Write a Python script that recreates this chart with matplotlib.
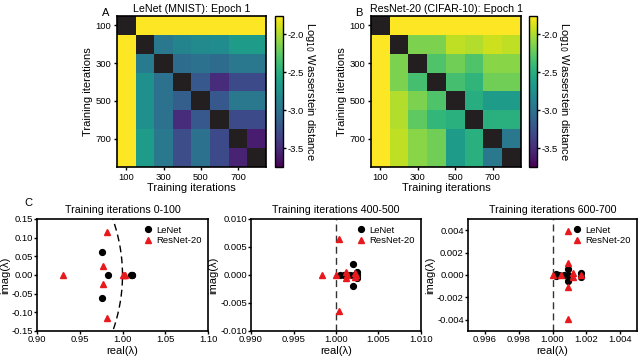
import numpy as np
import matplotlib.pyplot as plt
import matplotlib as mpl

plt.rcParams['font.family'] = ['Liberation Sans', 'DejaVu Sans']
plt.rcParams['axes.linewidth'] = 1.2

# heatmap data: log10 Wasserstein distance, nan on the diagonal
iters = [100, 200, 300, 400, 500, 600, 700, 800]
tick_iters = [100, 300, 500, 700]
nan = np.nan
lenet = [
    [nan, -1.6, -1.6, -1.6, -1.6, -1.6, -1.6, -1.6],
    [-1.6, nan, -2.95, -2.85, -2.80, -2.78, -2.65, -2.65],
    [-1.6, -2.92, nan, -3.05, -3.00, -3.05, -2.95, -2.95],
    [-1.6, -2.75, -3.00, nan, -3.20, -3.50, -3.30, -3.30],
    [-1.6, -2.75, -3.00, -3.15, nan, -3.20, -2.95, -2.95],
    [-1.6, -2.75, -3.00, -3.50, -3.20, nan, -3.30, -3.30],
    [-1.6, -2.65, -2.95, -3.28, -3.00, -3.30, nan, -3.60],
    [-1.6, -2.65, -2.95, -3.28, -3.00, -3.30, -3.55, nan],
]
resnet = [
    [nan, -1.6, -1.6, -1.6, -1.6, -1.6, -1.6, -1.6],
    [-1.6, nan, -2.15, -2.15, -1.95, -1.99, -1.91, -1.95],
    [-1.6, -2.15, nan, -2.31, -2.19, -2.31, -2.11, -2.11],
    [-1.6, -2.15, -2.35, nan, -2.35, -2.45, -2.19, -2.19],
    [-1.6, -1.99, -2.15, -2.31, nan, -2.51, -2.65, -2.65],
    [-1.6, -1.99, -2.25, -2.43, -2.49, nan, -2.49, -2.49],
    [-1.6, -1.95, -2.11, -2.19, -2.65, -2.49, nan, -2.95],
    [-1.6, -1.95, -2.11, -2.19, -2.65, -2.49, -2.95, nan],
]

# eigenvalue data
p1_lenet_re = [0.976, 0.976, 0.983, 1.011, 1.0105, 1.0115]
p1_lenet_im = [0.062, -0.062, 0.0, 0.0, 0.001, -0.001]
p1_res_re = [0.930, 0.982, 0.982, 0.977, 0.977, 1.000, 1.002, 1.003]
p1_res_im = [0.0, 0.115, -0.115, 0.024, -0.024, 0.0, 0.0, 0.0]

p2_lenet_re = [1.002, 1.002, 1.0025, 1.0025, 1.0005, 1.0009, 1.0013, 1.0017, 1.0021, 1.0025]
p2_lenet_im = [0.002, -0.002, 0.0005, -0.0005, 0.0, 0.0, 0.0, 0.0, 0.0, 0.0]
p2_res_re = [0.9983, 1.0000, 1.0003, 1.0003, 1.0012, 1.0012, 1.0013, 1.0022, 1.0022, 1.0023]
p2_res_im = [0.0, 0.0, 0.0065, -0.0065, 0.0005, -0.0005, 0.0, 0.0004, -0.0004, 0.0]

p3_lenet_re = [1.0002, 1.0002, 1.0004, 1.0007, 1.0009, 1.0009, 1.0009, 1.0017, 1.0017]
p3_lenet_im = [0.0001, -0.0001, 0.0, 0.0, 0.0005, -0.0005, 0.0, 0.0002, -0.0002]
p3_res_re = [1.0000, 1.0005, 1.0009, 1.0009, 1.0009, 1.0009, 1.0012, 1.0012, 1.0017]
p3_res_im = [0.0, 0.0, 0.0039, -0.0039, 0.0011, -0.0011, 0.0002, -0.0002, 0.0]

W, H = 640, 360
fig = plt.figure(figsize=(6.4, 3.6), dpi=100)

FS = 8.0   # axis labels
TT = 7.7   # titles
TS = 6.8   # tick labels


def box(x, y0, w, y1):
    return [x / W, 1 - y1 / H, w / W, (y1 - y0) / H]


cmap = mpl.colormaps['viridis'].copy()
cmap.set_bad('#231f20')


def heat(rect, crect, data, title, letter, lx):
    ax = fig.add_axes(rect)
    m = np.ma.masked_invalid(np.array(data))
    im = ax.imshow(m, cmap=cmap, vmin=-3.75, vmax=-1.76, aspect='auto',
                   extent=(50, 850, 850, 50))
    ax.set_xticks(tick_iters)
    ax.set_yticks(tick_iters)
    ax.tick_params(labelsize=TS, length=2.5, width=1, pad=1.5)
    ax.set_xlabel('Training iterations', fontsize=FS, labelpad=1)
    ax.set_ylabel('Training iterations', fontsize=FS, labelpad=2)
    ax.set_title(title, fontsize=TT, pad=3)
    fig.text(lx / W, 1 - 13 / H, letter, fontsize=FS, ha='center', va='center')
    cax = fig.add_axes(crect)
    cb = fig.colorbar(im, cax=cax, ticks=[-2.0, -2.5, -3.0, -3.5])
    cb.ax.set_yticklabels(['-2.0', '-2.5', '-3.0', '-3.5'])
    cb.ax.tick_params(labelsize=TS, length=2.5, width=1, pad=1)
    cb.outline.set_linewidth(1.0)
    cb.set_label('Log$_{10}$ Wasserstein distance', rotation=270, fontsize=FS, labelpad=9)


heat(box(117, 16, 149, 167), box(275, 16, 8, 167), lenet, 'LeNet (MNIST): Epoch 1', 'A', 106)
heat(box(371, 16, 150, 167), box(529, 16, 8, 167), resnet, 'ResNet-20 (CIFAR-10): Epoch 1', 'B', 359)


def eig(rect, lre, lim, rre, rim, xlim, ylim, xt, yt, fmt, title, circle):
    ax = fig.add_axes(rect)
    if circle:
        t = np.linspace(-0.2, 0.2, 200)
        ax.plot(np.sqrt(1 - t ** 2), t, color='black', ls=(0, (5, 3)), lw=1)
    else:
        ax.axvline(1.0, color='#333333', ls=(0, (5, 3)), lw=1)
    ax.plot(lre, lim, 'o', color='black', ms=4.2, label='LeNet', zorder=3)
    ax.plot(rre, rim, '^', color='#e8191c', ms=4.2, label='ResNet-20', zorder=4)
    ax.set_xlim(xlim)
    ax.set_ylim(ylim)
    ax.set_xticks(xt)
    ax.set_yticks(yt)
    ax.set_xticklabels([fmt % v for v in xt])
    ax.set_yticklabels([fmt % v for v in yt])
    ax.tick_params(labelsize=TS, length=2, width=1, pad=1)
    ax.set_xlabel('real(λ)', fontsize=FS, labelpad=1)
    ax.set_ylabel('imag(λ)', fontsize=FS, labelpad=1)
    ax.set_title(title, fontsize=TT, pad=4)
    ax.legend(loc='upper right', frameon=False, fontsize=6.8, handletextpad=0.2,
              borderaxespad=0.3, labelspacing=0.2, handlelength=1.2)
    return ax


eig(box(37, 219, 171, 331), p1_lenet_re, p1_lenet_im, p1_res_re, p1_res_im,
    (0.90, 1.10), (-0.15, 0.15), [0.90, 0.95, 1.00, 1.05, 1.10],
    [0.15, 0.10, 0.05, 0.0, -0.05, -0.10, -0.15], '%.2f', 'Training iterations 0-100', True)
eig(box(251, 219, 170, 331), p2_lenet_re, p2_lenet_im, p2_res_re, p2_res_im,
    (0.99, 1.01), (-0.01, 0.01), [0.990, 0.995, 1.000, 1.005, 1.010],
    [0.010, 0.005, 0.0, -0.005, -0.010], '%.3f', 'Training iterations 400-500', False)
eig(box(468, 219, 169, 331), p3_lenet_re, p3_lenet_im, p3_res_re, p3_res_im,
    (0.995, 1.005), (-0.005, 0.005), [0.996, 0.998, 1.000, 1.002, 1.004],
    [0.004, 0.002, 0.0, -0.002, -0.004], '%.3f', 'Training iterations 600-700', False)
fig.text(28 / W, 1 - 203 / H, 'C', fontsize=FS, ha='center', va='center')

fig.savefig('out.png', dpi=100)
